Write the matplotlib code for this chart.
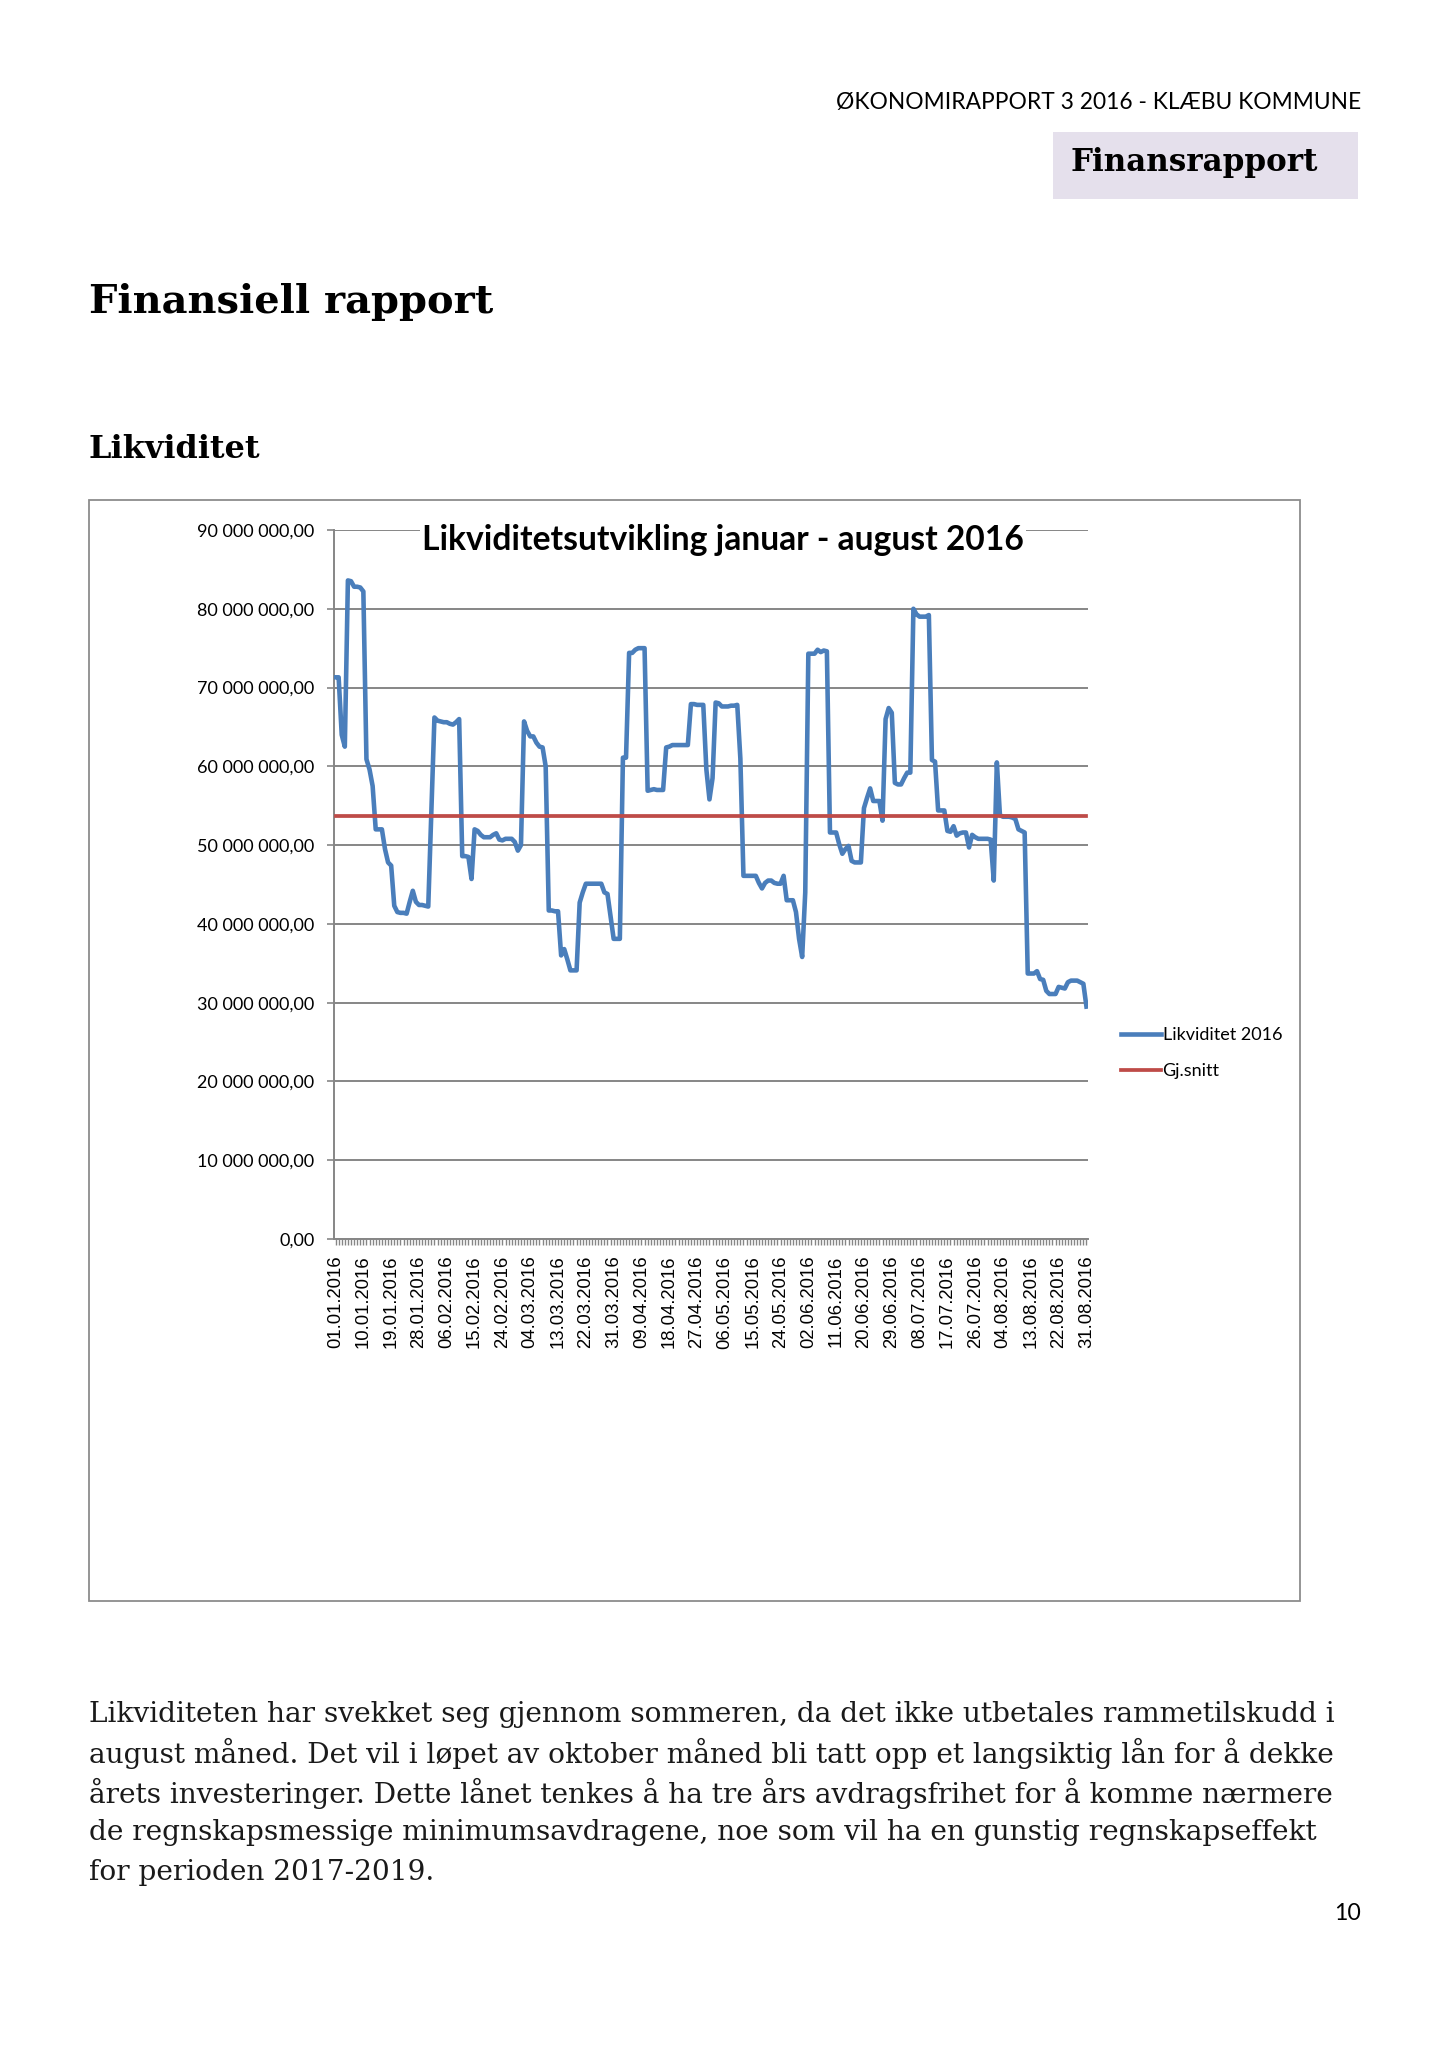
import numpy as np
import matplotlib
matplotlib.use('Agg')
import matplotlib.pyplot as plt
from matplotlib.ticker import FuncFormatter, MultipleLocator
from matplotlib.patches import Rectangle

W, H = 1448, 2048

# Likviditet 2016, daglige verdier (mill. kr), 01.01 - 31.08
liquidity_mill = [
    71.3, 71.3, 64.0, 62.5, 83.6, 83.5, 82.8, 82.8, 82.7, 82.2,   # 01.01 -
    60.9, 59.6, 57.5, 52.0, 52.0, 52.0, 49.5, 47.8, 47.4, 42.3,
    41.5, 41.4, 41.4, 41.3, 42.8, 44.2, 42.8, 42.4, 42.4, 42.3,
    42.2, 54.0, 66.2, 65.8, 65.7, 65.6, 65.6, 65.4, 65.3, 65.6,
    66.0, 48.6, 48.6, 48.5, 45.7, 52.0, 51.8, 51.3, 51.0, 51.0,
    51.0, 51.3, 51.5, 50.7, 50.6, 50.8, 50.8, 50.8, 50.4, 49.3,
    50.0, 65.7, 64.5, 63.8, 63.8, 63.0, 62.5, 62.4, 60.0, 41.7,
    41.7, 41.6, 41.6, 36.0, 36.8, 35.5, 34.1, 34.1, 34.1, 42.7,
    44.0, 45.1, 45.1, 45.1, 45.1, 45.1, 45.1, 44.0, 43.8, 41.0,
    38.1, 38.1, 38.1, 61.1, 61.1, 74.4, 74.4, 74.8, 75.0, 75.0,
    75.0, 56.9, 57.0, 57.1, 57.0, 57.0, 57.0, 62.4, 62.5, 62.7,
    62.7, 62.7, 62.7, 62.7, 62.7, 67.9, 67.9, 67.8, 67.8, 67.8,
    59.6, 55.8, 58.5, 68.1, 68.0, 67.6, 67.6, 67.6, 67.7, 67.7,
    67.8, 61.0, 46.1, 46.1, 46.1, 46.1, 46.1, 45.2, 44.5, 45.2,
    45.5, 45.5, 45.2, 45.1, 45.1, 46.1, 43.0, 43.0, 43.0, 41.5,
    38.1, 35.8, 44.0, 74.3, 74.3, 74.3, 74.8, 74.5, 74.7, 74.6,
    51.6, 51.6, 51.6, 50.1, 48.9, 49.5, 49.9, 48.0, 47.8, 47.8,
    47.8, 54.7, 56.0, 57.2, 55.6, 55.6, 55.6, 53.1, 66.0, 67.4,
    66.8, 57.9, 57.7, 57.7, 58.5, 59.2, 59.2, 80.0, 79.3, 79.0,
    79.0, 79.0, 79.2, 60.8, 60.6, 54.4, 54.4, 54.4, 51.8, 51.7,
    52.4, 51.2, 51.5, 51.6, 51.6, 49.7, 51.3, 51.0, 50.8, 50.8,
    50.8, 50.8, 50.7, 45.5, 60.5, 53.8, 53.6, 53.6, 53.6, 53.5,
    53.3, 52.0, 51.8, 51.6, 33.7, 33.7, 33.7, 34.0, 33.0, 32.9,
    31.5, 31.1, 31.1, 31.1, 32.0, 31.9, 31.8, 32.6, 32.8, 32.8,
    32.8, 32.6, 32.4, 29.5,
]
average_mill = 53.7

x_tick_labels = [
    '01.01.2016', '10.01.2016', '19.01.2016', '28.01.2016', '06.02.2016',
    '15.02.2016', '24.02.2016', '04.03.2016', '13.03.2016', '22.03.2016',
    '31.03.2016', '09.04.2016', '18.04.2016', '27.04.2016', '06.05.2016',
    '15.05.2016', '24.05.2016', '02.06.2016', '11.06.2016', '20.06.2016',
    '29.06.2016', '08.07.2016', '17.07.2016', '26.07.2016', '04.08.2016',
    '13.08.2016', '22.08.2016', '31.08.2016',
]
label_step = 9

body_lines = [
    'Likviditeten har svekket seg gjennom sommeren, da det ikke utbetales rammetilskudd i',
    'august måned. Det vil i løpet av oktober måned bli tatt opp et langsiktig lån for å dekke',
    'årets investeringer. Dette lånet tenkes å ha tre års avdragsfrihet for å komme nærmere',
    'de regnskapsmessige minimumsavdragene, noe som vil ha en gunstig regnskapseffekt',
    'for perioden 2017-2019.',
]

BLUE = '#4A7EBB'
RED = '#BE4B48'
GRID = '#868686'

fig = plt.figure(figsize=(W / 100, H / 100), dpi=100)
renderer = fig.canvas.get_renderer()


def fx(px):
    return px / W


def fy(py):
    return 1 - py / H


def fit_width(t, width_px):
    w = t.get_window_extent(renderer).width
    t.set_fontsize(t.get_fontsize() * width_px / w)


# ---- sidehode ----
t = fig.text(fx(1361), fy(102), 'ØKONOMIRAPPORT 3 2016 - KLÆBU KOMMUNE',
             ha='right', va='center', fontsize=15, family='Lato')
fit_width(t, 524)

fig.patches.append(Rectangle((fx(1053), fy(199)), fx(1358) - fx(1053), fy(132) - fy(199),
                             transform=fig.transFigure, facecolor='#E5E0EC', edgecolor='none'))
t = fig.text(fx(1071), fy(163), 'Finansrapport', ha='left', va='center',
             fontsize=20, family='DejaVu Serif', fontweight='heavy')
fit_width(t, 248)

t = fig.text(fx(89), fy(302), 'Finansiell rapport', ha='left', va='center',
             fontsize=28, family='DejaVu Serif', fontweight='heavy')
fit_width(t, 405)

t = fig.text(fx(89), fy(450), 'Likviditet', ha='left', va='center',
             fontsize=20, family='DejaVu Serif', fontweight='heavy')
fit_width(t, 172)

# ---- diagramramme ----
fig.patches.append(Rectangle((fx(89), fy(1601)), fx(1300) - fx(89), fy(500) - fy(1601),
                             transform=fig.transFigure, facecolor='none',
                             edgecolor='#8C8C8C', linewidth=1.3))

ax = fig.add_axes([fx(334), fy(1239), fx(1088) - fx(334), fy(530) - fy(1239)])
days = np.arange(len(liquidity_mill))
values = np.array(liquidity_mill) * 1e6

ax.plot(days, values, color=BLUE, linewidth=3.3, solid_joinstyle='round',
        label='Likviditet 2016', zorder=3)
ax.plot(days, np.full(len(days), average_mill * 1e6), color=RED, linewidth=2.7,
        label='Gj.snitt', zorder=3)

ax.set_xlim(-0.5, len(days) - 0.5)
ax.set_ylim(0, 90e6)
ax.yaxis.set_major_locator(MultipleLocator(10e6))
ax.yaxis.set_major_formatter(FuncFormatter(
    lambda v, p: f'{v:,.2f}'.replace(',', ' ').replace('.', ',')))
ax.grid(True, axis='y', color=GRID, linewidth=1.4)
ax.set_axisbelow(True)

ax.set_xticks(np.arange(0, len(days), label_step))
ax.set_xticklabels(x_tick_labels, rotation=90, family='Liberation Sans', fontsize=13.3)
ax.set_xticks(days, minor=True)
ax.tick_params(axis='x', which='both', direction='out', length=4, width=1,
               color=GRID, pad=8)
ax.tick_params(axis='y', direction='out', length=5, width=1.2, color=GRID,
               pad=9, labelsize=13)
for lab in ax.get_yticklabels():
    lab.set_family('Lato')

for s in ['top', 'right']:
    ax.spines[s].set_visible(False)
for s in ['left', 'bottom']:
    ax.spines[s].set_color(GRID)
    ax.spines[s].set_linewidth(1.4)

t = fig.text(fx(723), fy(540), 'Likviditetsutvikling januar - august 2016',
             ha='center', va='center', fontsize=20, family='Lato', fontweight='bold',
             bbox=dict(facecolor='white', edgecolor='none', pad=1), zorder=5)
fit_width(t, 603)

leg = ax.legend(loc='upper left', bbox_to_anchor=(fx(1112), fy(1018)),
                bbox_transform=fig.transFigure, frameon=False,
                prop={'family': 'Lato', 'size': 13}, handlelength=2.2,
                handletextpad=0.1, labelspacing=1.1, borderpad=0)

# ---- brødtekst ----
t0 = fig.text(fx(89), fy(1714), body_lines[0], ha='left', va='center',
              fontsize=18, family='DejaVu Serif', color='#1a1a1a')
fit_width(t0, 1250)
size = t0.get_fontsize()
for i, line in enumerate(body_lines[1:], start=1):
    fig.text(fx(89), fy(1714 + i * 39.5), line, ha='left', va='center',
             fontsize=size, family='DejaVu Serif', color='#1a1a1a')

t = fig.text(fx(1361), fy(1914), '10', ha='right', va='center', fontsize=15, family='Lato')
fit_width(t, 27)

fig.savefig('out.png', dpi=100, facecolor='white')
